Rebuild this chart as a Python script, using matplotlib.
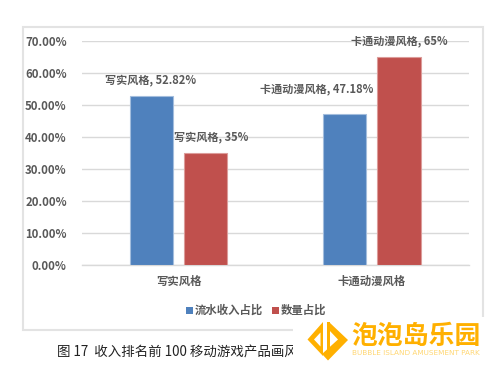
import matplotlib
matplotlib.use("Agg")
import matplotlib.pyplot as plt
from matplotlib.patches import Polygon, Rectangle
import numpy as np

plt.rcParams['font.family'] = ['Noto Sans CJK SC', 'DejaVu Sans']

categories = ["写实风格", "卡通动漫风格"]
series_names = ["流水收入占比", "数量占比"]
revenue_share = [52.82, 47.18]
count_share = [35, 65]
revenue_labels = ["写实风格, 52.82%", "卡通动漫风格, 47.18%"]
count_labels = ["写实风格, 35%", "卡通动漫风格, 65%"]
yticks = [0, 10, 20, 30, 40, 50, 60, 70]

W, H = 493, 367
GREY = "#595959"
BLUE = "#4F81BD"
RED = "#C0504D"
ORANGE = "#FFB000"

fig = plt.figure(figsize=(W / 100, H / 100), dpi=100)

# full figure overlay in pixel coordinates for the frame, caption and logo
bg = fig.add_axes([0, 0, 1, 1], zorder=0)
bg.set_xlim(0, W)
bg.set_ylim(H, 0)
bg.axis("off")
bg.add_patch(Rectangle((23, 27), 460, 303, fc="white", ec="#E3E3E3", lw=1.5))

# plot area
left, right, top, bottom = 82, 468.5, 41.3, 265.3
ax = fig.add_axes([left / W, 1 - bottom / H, (right - left) / W, (bottom - top) / H], zorder=1)
ax.patch.set_alpha(0)

x = np.arange(len(categories))
bw = 0.224
off = 0.14
b1 = ax.bar(x - off, revenue_share, bw, color=BLUE, edgecolor="#A3BDDD", linewidth=0.8, label=series_names[0], zorder=3)
b2 = ax.bar(x + off, count_share, bw, color=RED, edgecolor="#DC9C9A", linewidth=0.8, label=series_names[1], zorder=3)

ax.set_xlim(-0.5, 1.5)
ax.set_ylim(0, 70)
ax.set_yticks(yticks)
ax.set_yticklabels([f"{v:.2f}%" for v in yticks], fontsize=8.2, fontweight="bold", color=GREY)
ax.set_xticks(x)
ax.set_xticklabels(categories, fontsize=8.2, fontweight="bold", color=GREY)
ax.tick_params(axis="both", length=0)
ax.tick_params(axis="y", pad=11)
ax.tick_params(axis="x", pad=7)
ax.grid(axis="y", color="#D9D9D9", linewidth=1, zorder=0)
ax.set_axisbelow(True)
for s in ["top", "right", "left"]:
    ax.spines[s].set_visible(False)
ax.spines["bottom"].set_color("#D9D9D9")
ax.spines["bottom"].set_linewidth(1)

# data labels, shifted the way they sit in the picture (offset in points)
shifts = [[(-1, 11.5), (4, 11.5)], [(-20, 18), (0, 11.5)]]
for i in range(2):
    for j, (bars, labels) in enumerate(((b1, revenue_labels), (b2, count_labels))):
        r = bars[i]
        ax.annotate(labels[i], (r.get_x() + r.get_width() / 2, r.get_height()),
                    xytext=shifts[i][j], textcoords="offset points", ha="center", va="center",
                    fontsize=8, fontweight="bold", color=GREY, zorder=5, annotation_clip=False)

# legend
bg.add_patch(Rectangle((186, 307), 7, 7, fc=BLUE, ec="none"))
bg.text(195, 310.5, series_names[0], fontsize=8.2, fontweight="bold", color=GREY, va="center", ha="left")
bg.add_patch(Rectangle((272, 307), 7, 7, fc=RED, ec="none"))
bg.text(281, 310.5, series_names[1], fontsize=8.2, fontweight="bold", color=GREY, va="center", ha="left")

# caption, cut off by the watermark box
bg.text(57, 353, "图 17  收入排名前 100 移动游戏产品画风分布", fontsize=9.7, color="#222222", va="center", ha="left")

# watermark
top_ax = fig.add_axes([0, 0, 1, 1], zorder=4)
top_ax.set_xlim(0, W)
top_ax.set_ylim(H, 0)
top_ax.axis("off")
top_ax.add_patch(Rectangle((293, 317), 200, 50, fc="white", ec="none"))
# diamond logo: left chevron with bar, right bar and chevron
top_ax.add_patch(Polygon([(323, 322), (323, 356), (307.5, 339.5)], fc=ORANGE, ec="none"))
top_ax.add_patch(Polygon([(314, 339.5), (320.5, 332.5), (320.5, 346.5)], fc="white", ec="none"))
top_ax.add_patch(Polygon([(327, 322), (330, 322), (330, 350), (327, 350)], fc=ORANGE, ec="none"))
top_ax.add_patch(Polygon([(329, 322), (348, 340), (328, 360.5), (322, 354), (338, 339.5), (329, 330)], fc=ORANGE, ec="none"))
top_ax.text(351.5, 336, "泡泡岛乐园", fontsize=18.6, fontweight="bold", color=ORANGE, va="center", ha="left")
top_ax.text(352, 353, "BUBBLE ISLAND AMUSEMENT PARK", fontsize=5.2, color="#FFD773", va="center", ha="left", family="DejaVu Sans")

fig.savefig("out.png", dpi=100)
